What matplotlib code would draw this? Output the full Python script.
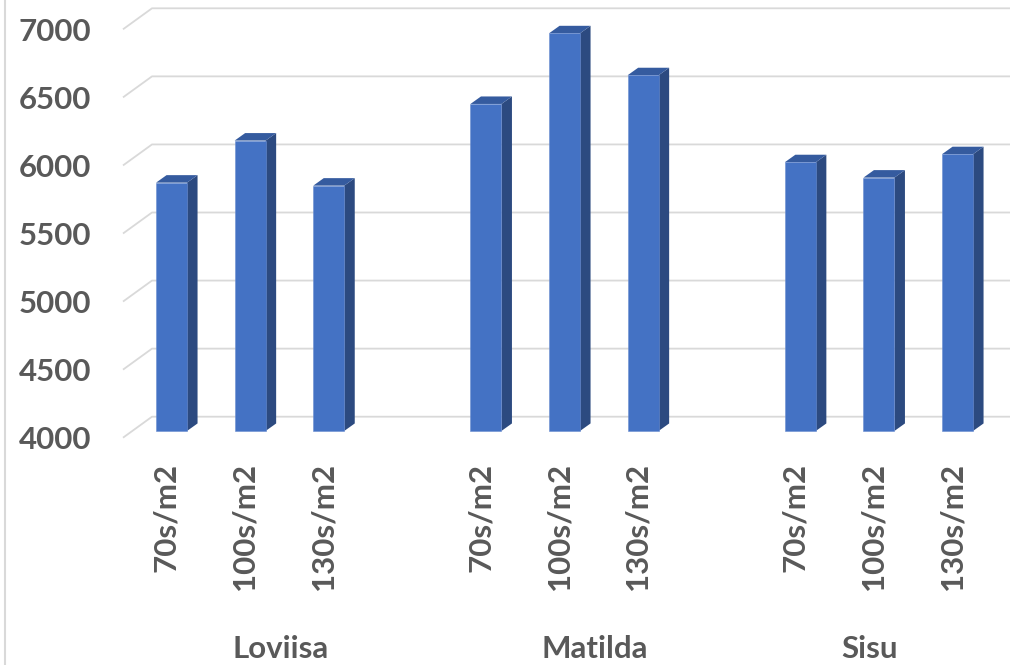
import matplotlib
matplotlib.use('Agg')
import matplotlib.pyplot as plt
from matplotlib.patches import Polygon
from matplotlib.lines import Line2D
import matplotlib.transforms as mtransforms

groups = ['Loviisa', 'Matilda', 'Sisu']
densities = ['70s/m2', '100s/m2', '130s/m2']
loviisa = [5824, 6133, 5802]
matilda = [6402, 6921, 6613]
sisu = [5974, 5861, 6033]
yticks = [4000, 4500, 5000, 5500, 6000, 6500, 7000]

series = [loviisa, matilda, sisu]

front_col = '#4472c4'
side_col = '#2c4a80'
top_col = '#355b9f'
grid_col = '#d9d9d9'
text_col = '#595959'

plt.rcParams['font.family'] = ['Lato', 'DejaVu Sans']

W, H = 1010, 665
fig = plt.figure(figsize=(W / 100, H / 100), dpi=100)
# front plane of the 3d box: x 123px.., 4000 at 437.7px, 7000 at 29.3px
ax = fig.add_axes([123 / W, (H - 437.7) / H, 864.6 / W, 408.4 / H])
ax.set_xlim(-0.5, 10.5)
ax.set_ylim(4000, 7000)
ax.patch.set_visible(False)
for s in ax.spines.values():
    s.set_visible(False)

# pixel -> data conversions for the depth offsets
p0 = ax.transData.transform((0, 4000))
p1 = ax.transData.transform((1, 5000))
ppx = p1[0] - p0[0]
ppy = (p1[1] - p0[1]) / 1000.0
wall_dx, wall_dy = 29 / ppx, 21 / ppy
bar_dx, bar_dy = 10.5 / ppx, 7.5 / ppy
# bars sit in the middle of the depth
off_x = (wall_dx - bar_dx) / 2
off_y = (wall_dy - bar_dy) / 2
bw = 31 / ppx

# gridlines: left side wall + back wall
x0, x1 = ax.get_xlim()
for v in yticks:
    ax.plot([x0, x0 + wall_dx, x1 + wall_dx], [v, v + wall_dy, v + wall_dy],
            color=grid_col, lw=1.3, clip_on=False, zorder=1, solid_capstyle='butt')

# bars
for g, vals in enumerate(series):
    for j, v in enumerate(vals):
        p = 4 * g + j
        xl = p - bw / 2 + off_x
        xr = p + bw / 2 + off_x
        yb = 4000 + off_y
        yt = v + off_y
        front = Polygon([(xl, yb), (xr, yb), (xr, yt), (xl, yt)], closed=True,
                        facecolor=front_col, edgecolor='#6a8dd0', lw=0.4,
                        clip_on=False, zorder=3)
        side = Polygon([(xr, yb), (xr + bar_dx, yb + bar_dy), (xr + bar_dx, yt + bar_dy), (xr, yt)],
                       closed=True, facecolor=side_col, edgecolor='none', clip_on=False, zorder=3)
        top = Polygon([(xl, yt), (xr, yt), (xr + bar_dx, yt + bar_dy), (xl + bar_dx, yt + bar_dy)],
                      closed=True, facecolor=top_col, edgecolor='none', clip_on=False, zorder=3)
        ax.add_patch(side)
        ax.add_patch(top)
        ax.add_patch(front)

# y axis labels
ax.set_yticks(yticks)
ax.set_yticklabels([str(v) for v in yticks], fontsize=22.5, fontweight='bold', color=text_col)
ax.tick_params(axis='y', length=0, pad=23)
ax.set_xticks([])

# category labels
trans = mtransforms.blended_transform_factory(ax.transData, fig.transFigure)
for g, name in enumerate(groups):
    for j, lab in enumerate(densities):
        p = 4 * g + j
        ax.text(p + 4 / ppx, (H - 463) / H, lab, transform=trans, rotation=90,
                ha='center', va='top', fontsize=22.5, fontweight='bold', color=text_col)
group_pos = [1.5, 5.5, 9]
for name, gp in zip(groups, group_pos):
    ax.text(gp, (H - 658) / H, name, transform=trans, ha='center', va='baseline',
            fontsize=22.5, fontweight='bold', color=text_col)

# chart border on the left
fig.add_artist(Line2D([5 / W, 5 / W], [0, 1], color=grid_col, lw=1.5))

fig.savefig('out.png', dpi=100)
